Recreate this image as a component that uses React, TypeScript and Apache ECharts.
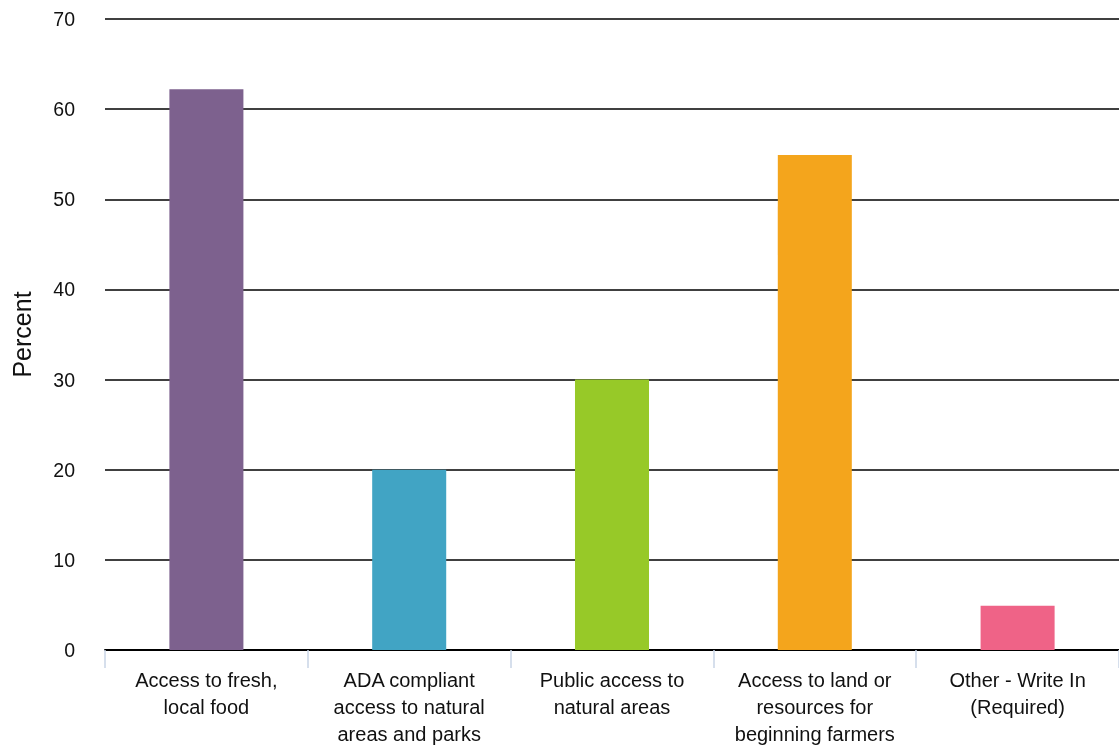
import React, { useEffect, useRef } from "react";
import * as echarts from "echarts";

const categories = [
  "Access to fresh,\nlocal food",
  "ADA compliant\naccess to natural\nareas and parks",
  "Public access to\nnatural areas",
  "Access to land or\nresources for\nbeginning farmers",
  "Other - Write In\n(Required)",
];
const values = [62.2, 20, 30, 54.9, 4.9];
const colors = ["#7D618E", "#41A4C4", "#97C928", "#F4A51C", "#EF6387"];

export default function App() {
  const ref = useRef<HTMLDivElement>(null);
  useEffect(() => {
    if (!ref.current) return;
    const chart = echarts.init(ref.current, undefined, { renderer: "svg" });
    chart.setOption({
      animation: false,
      textStyle: { fontFamily: "Liberation Sans, Arial, sans-serif" },
      grid: {
        left: 105,
        right: 0,
        top: 19,
        bottom: 99,
        containLabel: false,
        outerBoundsMode: "none",
      },
      xAxis: {
        type: "category",
        data: categories,
        axisLine: { lineStyle: { color: "#000", width: 2 } },
        axisTick: { show: true, length: 18, lineStyle: { color: "#c8d4e6", width: 1.5 } },
        axisLabel: {
          color: "#111",
          fontSize: 20,
          lineHeight: 27,
          margin: 16,
          interval: 0,
          align: "center",
        },
      },
      yAxis: {
        type: "value",
        min: 0,
        max: 70,
        interval: 10,
        name: "Percent",
        nameLocation: "middle",
        nameGap: 71,
        nameTextStyle: { fontSize: 25, color: "#111" },
        axisLine: { show: false },
        axisTick: { show: false },
        axisLabel: { color: "#111", fontSize: 19.5, margin: 30 },
        splitLine: { lineStyle: { color: "#000", width: 1.5 } },
      },
      series: [
        {
          type: "bar",
          data: values.map((v, i) => ({ value: v, itemStyle: { color: colors[i] } })),
          barWidth: "36.5%",
        },
      ],
    });
    return () => chart.dispose();
  }, []);
  return (
    <div
      ref={ref}
      style={{ position: "fixed", left: 0, top: 0, width: 1119, height: 749 }}
    />
  );
}
